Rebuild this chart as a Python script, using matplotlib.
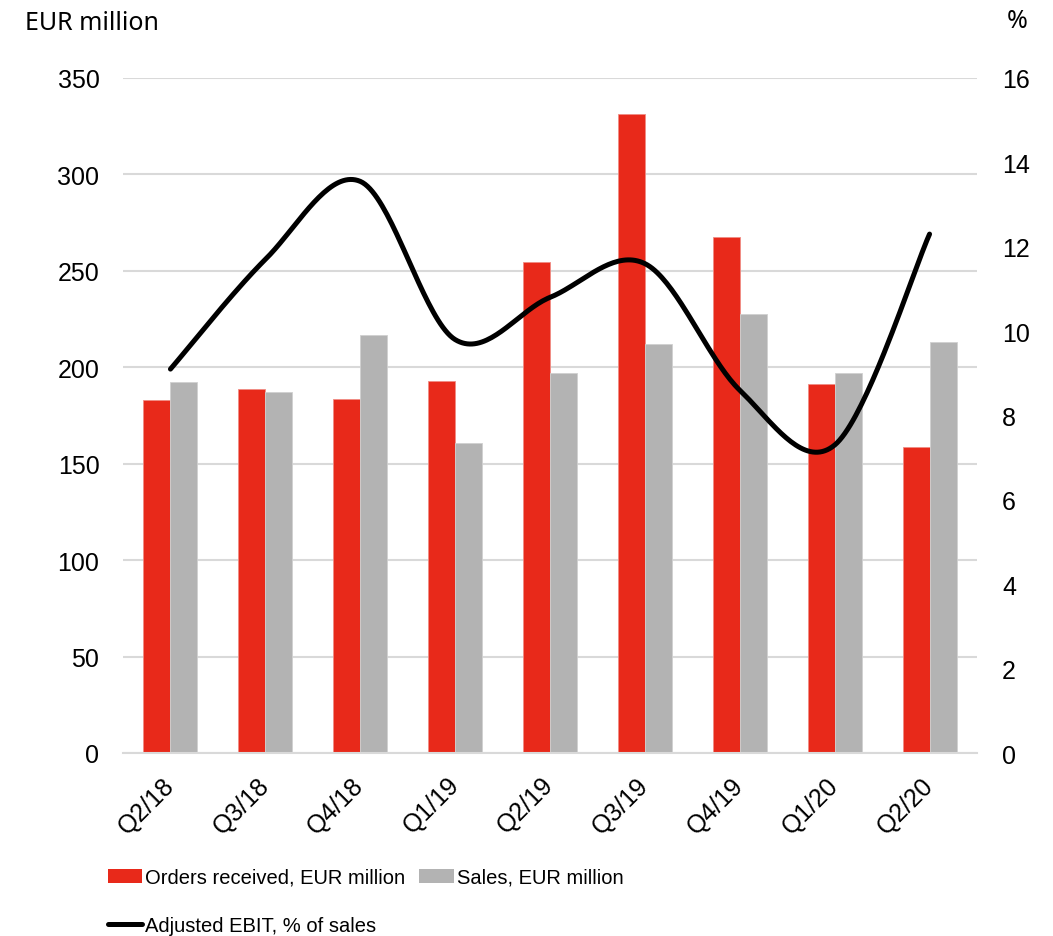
import numpy as np
import matplotlib
matplotlib.use("Agg")
import matplotlib.pyplot as plt
from matplotlib.patches import Patch
from matplotlib.lines import Line2D

quarters = ["Q2/18", "Q3/18", "Q4/18", "Q1/19", "Q2/19", "Q3/19", "Q4/19", "Q1/20", "Q2/20"]
orders = [183, 188.5, 183.5, 193, 254.5, 331.5, 267.5, 191.5, 158.5]
sales = [192.5, 187, 217, 161, 197, 212, 227.5, 197, 213]
ebit_pct = [9.1, 11.7, 13.55, 9.8, 10.8, 11.6, 8.6, 7.3, 12.3]

RED = "#e8291a"
GREY = "#b3b3b3"
GRID = "#d9d9d9"

plt.rcParams["font.family"] = ["Liberation Sans", "DejaVu Sans"]


def smooth(xs, ys, n=40):
    # Catmull-Rom style bezier segments, like a spreadsheet "smoothed line"
    xs = np.asarray(xs, float)
    ys = np.asarray(ys, float)
    px, py = [], []
    m = len(xs)
    for i in range(m - 1):
        i0 = max(i - 1, 0)
        i3 = min(i + 2, m - 1)
        p0 = np.array([xs[i0], ys[i0]])
        p1 = np.array([xs[i], ys[i]])
        p2 = np.array([xs[i + 1], ys[i + 1]])
        p3 = np.array([xs[i3], ys[i3]])
        c1 = p1 + (p2 - p0) / 6
        c2 = p2 - (p3 - p1) / 6
        t = np.linspace(0, 1, n)[:, None]
        pts = ((1 - t) ** 3) * p1 + 3 * ((1 - t) ** 2) * t * c1 + 3 * (1 - t) * t ** 2 * c2 + t ** 3 * p2
        if i > 0:
            pts = pts[1:]
        px.extend(pts[:, 0])
        py.extend(pts[:, 1])
    return np.array(px), np.array(py)


fig = plt.figure(figsize=(10.53, 9.37), dpi=100)
ax = fig.add_axes([123 / 1053, 1 - 754 / 937, 854 / 1053, 675 / 937])

x = np.arange(len(quarters))
w = 0.285
ax.bar(x - w / 2, orders, width=w, color=RED, edgecolor="#f08c84", linewidth=0.6, zorder=2)
ax.bar(x + w / 2, sales, width=w, color=GREY, edgecolor="#d0d0d0", linewidth=0.6, zorder=2)

ax.set_xlim(-0.5, len(quarters) - 0.5)
ax.set_ylim(0, 350)
ax.set_yticks(np.arange(0, 351, 50))
ax.yaxis.grid(True, color=GRID, linewidth=1.5)
ax.set_axisbelow(True)
for s in ["top", "right", "left"]:
    ax.spines[s].set_visible(False)
ax.spines["bottom"].set_color(GRID)
ax.spines["bottom"].set_linewidth(1.5)
ax.tick_params(axis="both", length=0, labelsize=18)
ax.tick_params(axis="y", pad=17)
ax.set_xticks(x)
ax.set_xticklabels(quarters, rotation=45, ha="right", va="center", rotation_mode="anchor")
ax.tick_params(axis="x", pad=20)

ax2 = ax.twinx()
ax2.set_ylim(0, 16)
ax2.set_yticks(np.arange(0, 17, 2))
for s in ax2.spines.values():
    s.set_visible(False)
ax2.tick_params(axis="y", length=0, labelsize=18, pad=18)
sx, sy = smooth(x, ebit_pct)
ax2.plot(sx, sy, color="black", linewidth=3.6, solid_capstyle="round", zorder=3)

fig.text(25 / 1053, 1 - 23 / 937, "EUR million", fontsize=18, family="Noto Sans", va="center", ha="left")
fig.text(1028 / 1053, 1 - 22 / 937, "%", fontsize=18, family="Noto Sans", va="center", ha="right")

handles = [
    Patch(facecolor=RED, edgecolor="none"),
    Line2D([0], [0], color="black", linewidth=3.6, solid_capstyle="round"),
    Patch(facecolor=GREY, edgecolor="none"),
]
labels = ["Orders received, EUR million", "Adjusted EBIT, % of sales", "Sales, EUR million"]
fig.legend(handles, labels, loc="upper left", bbox_to_anchor=(108 / 1053, 1 - 869 / 937),
           ncol=2, frameon=False, prop={"size": 14.5}, borderpad=0, borderaxespad=0,
           handlelength=1.7, handleheight=0.7, handletextpad=0.15,
           columnspacing=0.7, labelspacing=1.45)

fig.savefig("out.png", dpi=100)
